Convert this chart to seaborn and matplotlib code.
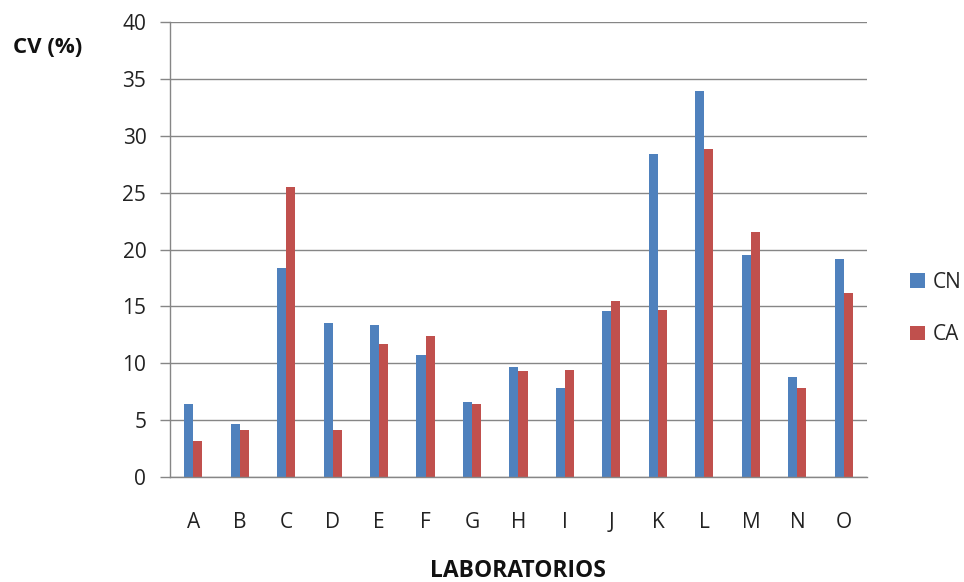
import matplotlib
matplotlib.use("Agg")
import matplotlib.pyplot as plt
import seaborn as sns
import pandas as pd

laboratorios = ["A", "B", "C", "D", "E", "F", "G", "H", "I", "J", "K", "L", "M", "N", "O"]
cn = [6.4, 4.7, 18.4, 13.5, 13.4, 10.7, 6.6, 9.65, 7.85, 14.6, 28.4, 33.9, 19.5, 8.75, 19.2]
ca = [3.2, 4.1, 25.5, 4.1, 11.7, 12.4, 6.4, 9.3, 9.4, 15.5, 14.7, 28.8, 21.5, 7.85, 16.2]
series = ["CN", "CA"]
colors = ["#4F81BD", "#C0504D"]

df = pd.DataFrame({
    "lab": laboratorios * 2,
    "serie": [series[0]] * len(cn) + [series[1]] * len(ca),
    "cv": cn + ca,
})

sns.set_theme(style="white")
plt.rcParams["font.family"] = ["Open Sans", "DejaVu Sans"]

fig = plt.figure(figsize=(9.64, 5.82), dpi=100)
ax = fig.add_axes([0.1763, 0.1804, 0.7231, 0.7818])

sns.barplot(data=df, x="lab", y="cv", hue="serie", hue_order=series,
            palette=colors, width=0.39, saturation=1, ax=ax, legend=True,
            edgecolor="none", linewidth=0)

ax.set_ylim(0, 40)
ax.set_yticks(range(0, 41, 5))
ax.set_xlim(-0.5, len(laboratorios) - 0.5)
ax.yaxis.grid(True, color="#868686", linewidth=1)
ax.set_axisbelow(True)
for s in ["top", "right"]:
    ax.spines[s].set_visible(False)
for s in ["left", "bottom"]:
    ax.spines[s].set_color("#868686")
    ax.spines[s].set_linewidth(1)
ax.tick_params(axis="y", left=True, length=7, width=1, color="#868686",
               labelsize=15, pad=10, labelcolor="#222222")
ax.tick_params(axis="x", bottom=False, labelsize=15, pad=19, labelcolor="#222222")
ax.set_xlabel("")
ax.set_ylabel("")

fig.text(0.049, 0.918, "CV (%)", fontsize=16, fontweight="bold", ha="center", va="center", color="#111111")
fig.text(0.537, 0.019, "LABORATORIOS", fontsize=16.5, fontweight="bold", ha="center", va="center", color="#111111")

leg = ax.legend(loc="center left", bbox_to_anchor=(1.035, 0.37), frameon=False,
                fontsize=15, handlelength=0.7, handleheight=0.7, labelspacing=1.5,
                handletextpad=0.4)

fig.savefig("out.png", dpi=100)
